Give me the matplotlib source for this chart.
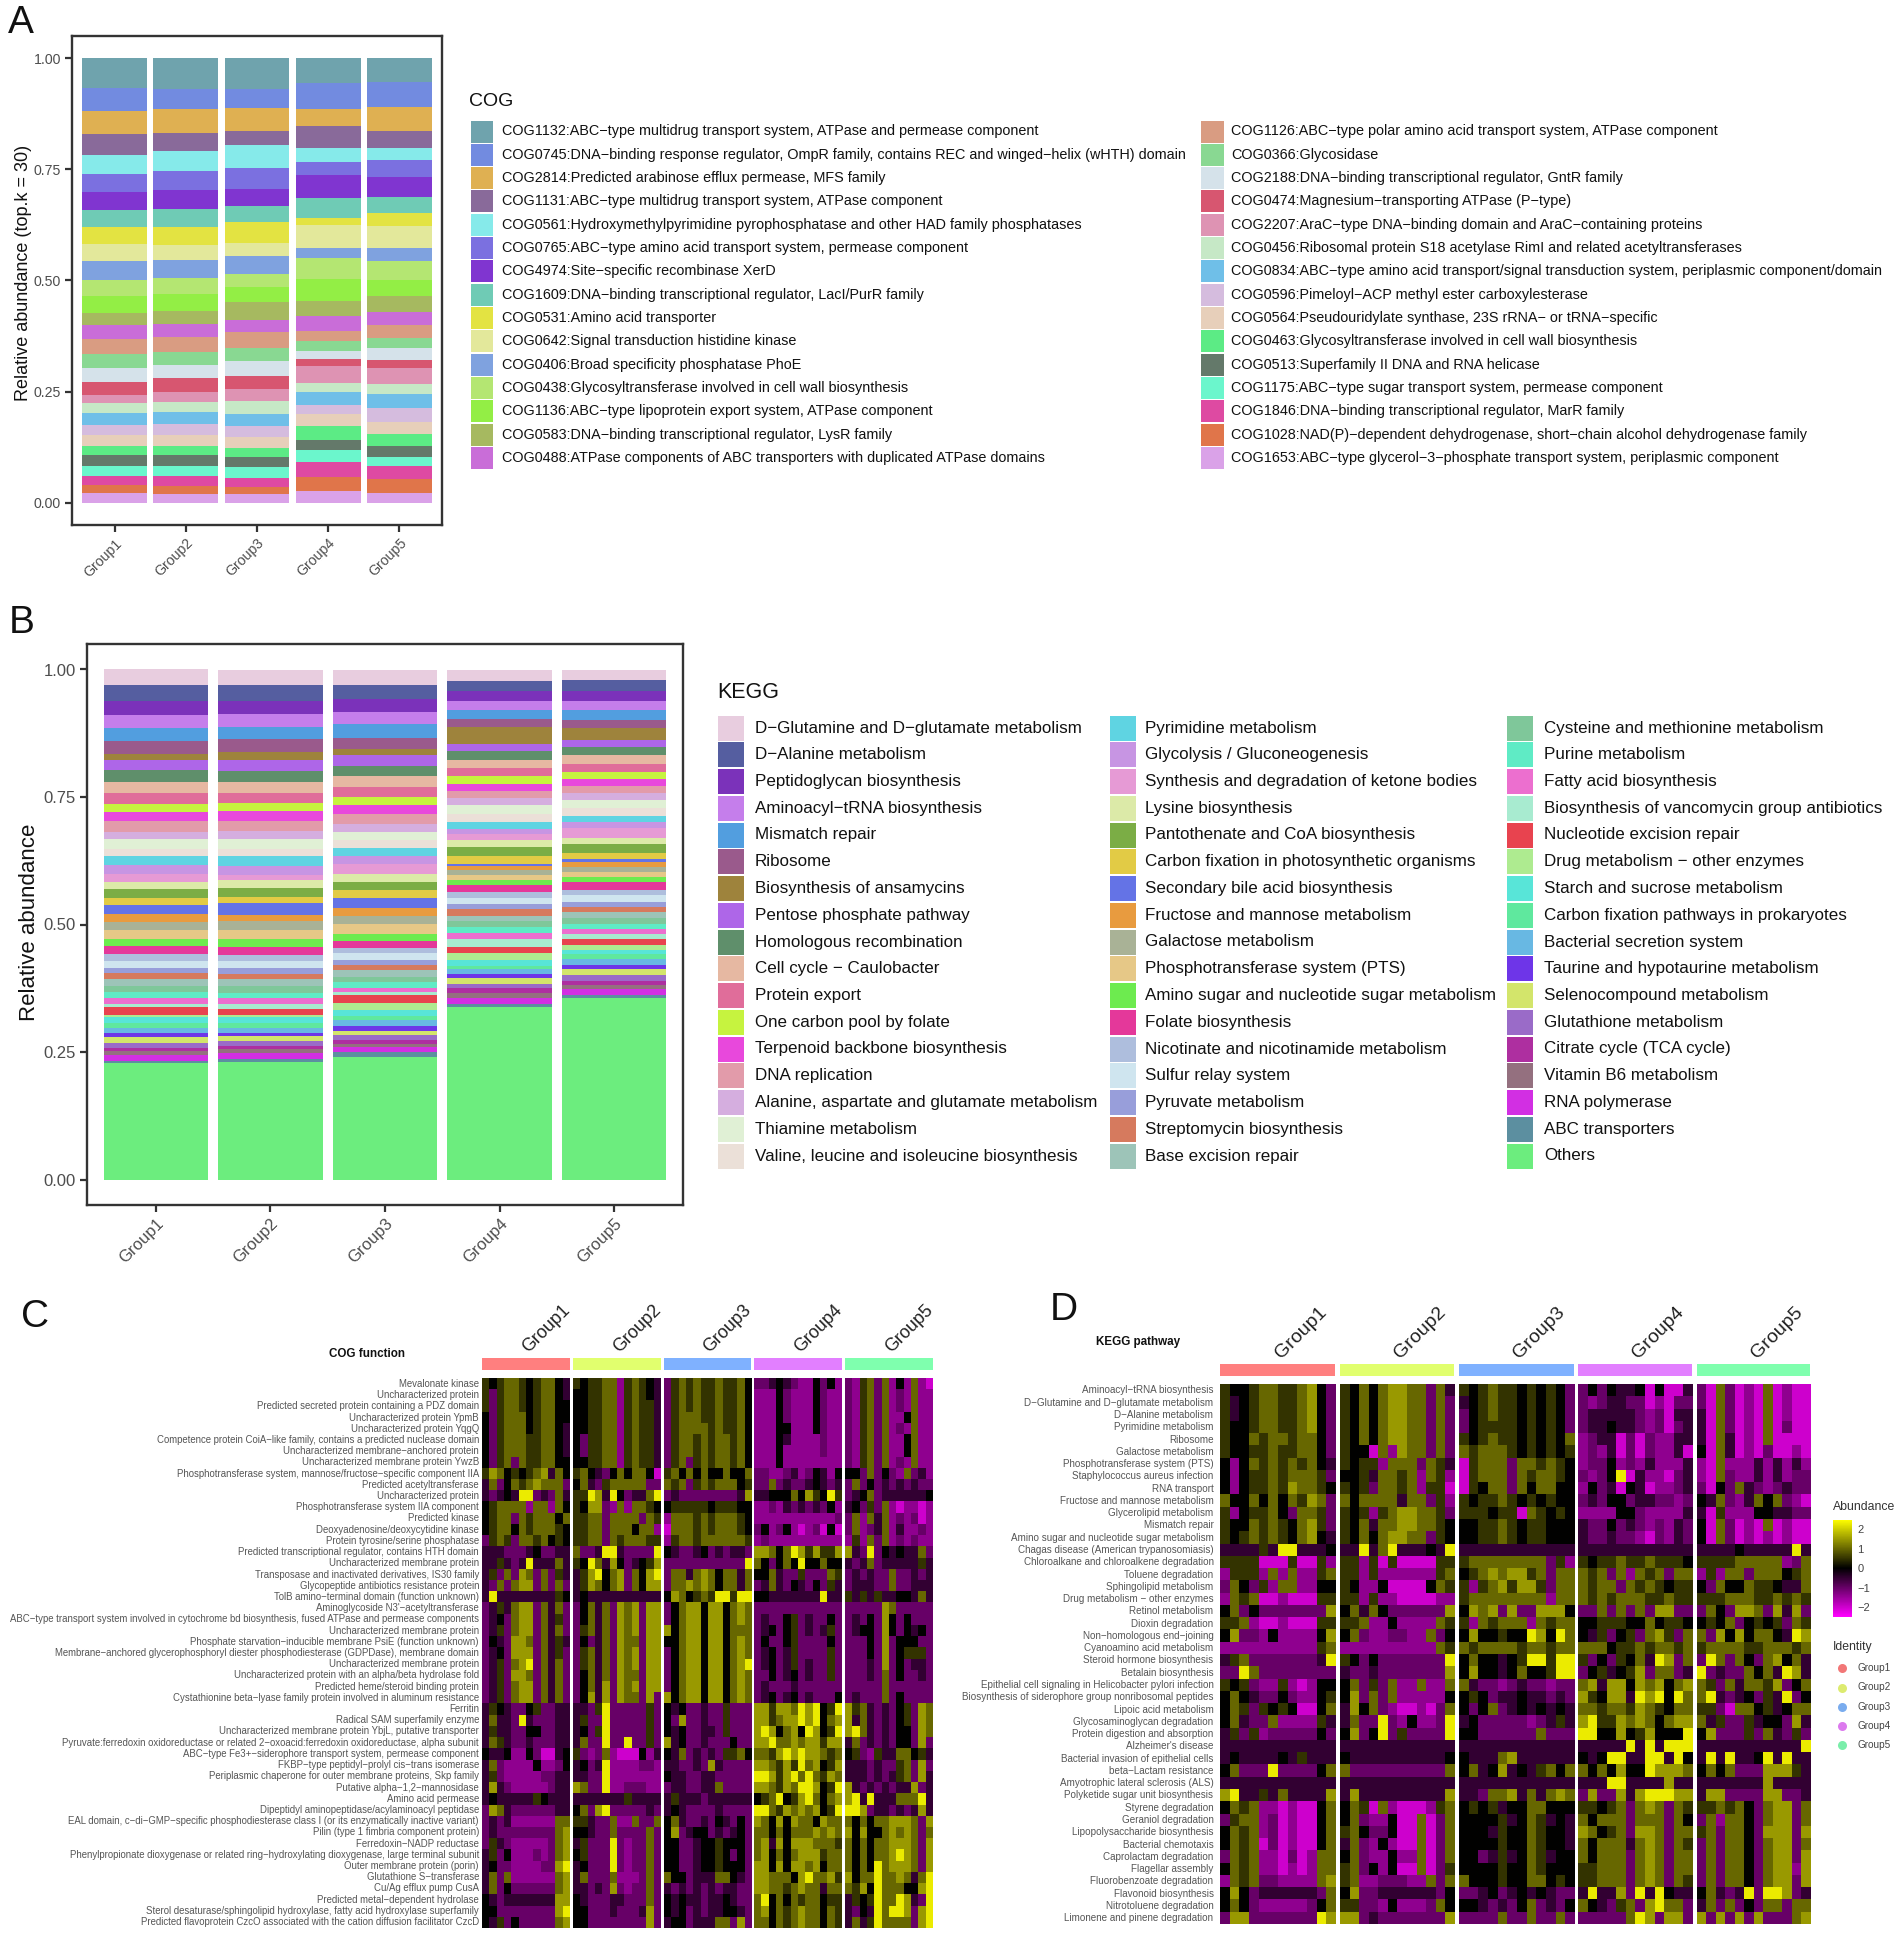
import numpy as np
import matplotlib
matplotlib.use("Agg")
import matplotlib.pyplot as plt
from matplotlib.colors import LinearSegmentedColormap, Normalize
from matplotlib.cm import ScalarMappable
from matplotlib.patches import Rectangle

plt.rcParams['font.family'] = ['Liberation Sans', 'DejaVu Sans']

GROUPS = ["Group1", "Group2", "Group3", "Group4", "Group5"]

# ---------- Panel A ----------
COG_NAMES = [
 "COG1132:ABC−type multidrug transport system, ATPase and permease component",
 "COG0745:DNA−binding response regulator, OmpR family, contains REC and winged−helix (wHTH) domain",
 "COG2814:Predicted arabinose efflux permease, MFS family",
 "COG1131:ABC−type multidrug transport system, ATPase component",
 "COG0561:Hydroxymethylpyrimidine pyrophosphatase and other HAD family phosphatases",
 "COG0765:ABC−type amino acid transport system, permease component",
 "COG4974:Site−specific recombinase XerD",
 "COG1609:DNA−binding transcriptional regulator, LacI/PurR family",
 "COG0531:Amino acid transporter",
 "COG0642:Signal transduction histidine kinase",
 "COG0406:Broad specificity phosphatase PhoE",
 "COG0438:Glycosyltransferase involved in cell wall biosynthesis",
 "COG1136:ABC−type lipoprotein export system, ATPase component",
 "COG0583:DNA−binding transcriptional regulator, LysR family",
 "COG0488:ATPase components of ABC transporters with duplicated ATPase domains",
 "COG1126:ABC−type polar amino acid transport system, ATPase component",
 "COG0366:Glycosidase",
 "COG2188:DNA−binding transcriptional regulator, GntR family",
 "COG0474:Magnesium−transporting ATPase (P−type)",
 "COG2207:AraC−type DNA−binding domain and AraC−containing proteins",
 "COG0456:Ribosomal protein S18 acetylase RimI and related acetyltransferases",
 "COG0834:ABC−type amino acid transport/signal transduction system, periplasmic component/domain",
 "COG0596:Pimeloyl−ACP methyl ester carboxylesterase",
 "COG0564:Pseudouridylate synthase, 23S rRNA− or tRNA−specific",
 "COG0463:Glycosyltransferase involved in cell wall biosynthesis",
 "COG0513:Superfamily II DNA and RNA helicase",
 "COG1175:ABC−type sugar transport system, permease component",
 "COG1846:DNA−binding transcriptional regulator, MarR family",
 "COG1028:NAD(P)−dependent dehydrogenase, short−chain alcohol dehydrogenase family",
 "COG1653:ABC−type glycerol−3−phosphate transport system, periplasmic component",
]
COG_COLORS = ["#6FA3AD","#728BE0","#DFB052","#896A9A","#86EAEA","#7B70E0","#8035D0","#6FCBB5","#E3E342","#E3E89B",
 "#7FA2DF","#B4E672","#93EE45","#A6B960","#C96DD8","#D99C82","#89D892","#D5E2EA","#D75670","#DE93B3",
 "#C6E8C6","#6FBFE8","#D5BCDE","#E7CFBA","#5CEB85","#64796A","#6BF6CC","#DE4AA2","#E0754A","#DAA2E8"]
COG_G1 = [79,61,62,55,50,50,48,43,47,45,50,43,45,33,37,39,38,36,34,23,27,31,26,31,22,30,28,24,20,26]
COG_G2 = [81,55,63,48,53,51,50,47,50,40,48,42,44,36,35,39,35,35,36,27,27,32,28,31,24,29,27,26,20,24]
COG_G3 = [81,51,61,38,61,55,45,43,56,36,46,37,40,46,32,44,33,41,35,31,35,32,30,28,25,26,29,24,19,23]
COG_G4 = [66,68,47,59,36,34,62,52,20,60,28,55,58,40,40,28,26,22,17,45,24,35,25,32,37,27,31,40,38,31]
COG_G5 = [62,67,64,47,32,44,52,43,35,58,36,49,44,43,35,33,28,30,22,43,26,38,38,31,31,29,24,35,39,25]

# ---------- Panel B ----------
KEGG_NAMES = [
 "D−Glutamine and D−glutamate metabolism","D−Alanine metabolism","Peptidoglycan biosynthesis","Aminoacyl−tRNA biosynthesis",
 "Mismatch repair","Ribosome","Biosynthesis of ansamycins","Pentose phosphate pathway","Homologous recombination",
 "Cell cycle − Caulobacter","Protein export","One carbon pool by folate","Terpenoid backbone biosynthesis","DNA replication",
 "Alanine, aspartate and glutamate metabolism","Thiamine metabolism","Valine, leucine and isoleucine biosynthesis",
 "Pyrimidine metabolism","Glycolysis / Gluconeogenesis","Synthesis and degradation of ketone bodies","Lysine biosynthesis",
 "Pantothenate and CoA biosynthesis","Carbon fixation in photosynthetic organisms","Secondary bile acid biosynthesis",
 "Fructose and mannose metabolism","Galactose metabolism","Phosphotransferase system (PTS)","Amino sugar and nucleotide sugar metabolism",
 "Folate biosynthesis","Nicotinate and nicotinamide metabolism","Sulfur relay system","Pyruvate metabolism","Streptomycin biosynthesis",
 "Base excision repair","Cysteine and methionine metabolism","Purine metabolism","Fatty acid biosynthesis",
 "Biosynthesis of vancomycin group antibiotics","Nucleotide excision repair","Drug metabolism − other enzymes",
 "Starch and sucrose metabolism","Carbon fixation pathways in prokaryotes","Bacterial secretion system",
 "Taurine and hypotaurine metabolism","Selenocompound metabolism","Glutathione metabolism","Citrate cycle (TCA cycle)",
 "Vitamin B6 metabolism","RNA polymerase","ABC transporters","Others",
]
KEGG_COLORS = ["#E8CDDF","#555EA0","#7B32BA","#C57EEB","#529EDF","#9A5A8C","#9E833C","#AE66E8","#5F8F6B","#E6B8A2",
 "#E06D9A","#C6F33F","#E848DC","#E29BAA","#D5AEDF","#E0F0D5","#EBE0D8","#5FD4E2","#C795E3","#E69AD5",
 "#DCEAA8","#7BAD45","#E2CB45","#6473E6","#E89B3F","#A9B296","#E6C887","#6DEB4F","#E4389A","#AEBEDD",
 "#CFE5EF","#989EDA","#D67A5E","#9DC4B8","#7FC79A","#5FEBC5","#EC6FCF","#A8EBD0","#E8434F","#AEEB90",
 "#58E5D8","#5FE89E","#68B8E3","#6E35E8","#D3E56B","#9A6BC8","#AE2FA0","#94707F","#D22FE3","#5C8FA0","#6CED7E"]
KEGG_G1 = [38,38,31,31,33,30,15,24,27,27,25,19,22,25,18,24,16,22,21,18,18,20,18,21,18,20,22,16,19,16,18,12,13,17,14,15,13,9,17,7,14,12,11,10,13,13,6,10,14,5,277]
KEGG_G2 = [37,38,30,31,30,30,20,24,28,25,25,19,22,25,18,24,17,24,20,13,20,21,14,28,15,21,21,19,19,15,16,14,11,18,15,14,13,11,15,5,14,12,11,9,10,13,7,9,15,7,279]
KEGG_G3 = [36,35,29,30,32,27,14,25,24,28,22,20,22,22,20,19,18,20,20,22,19,19,20,24,19,19,24,16,16,13,15,13,12,16,13,14,8,9,17,17,14,11,13,13,9,12,10,6,13,10,292]
KEGG_G4 = [27,23,24,22,22,19,40,17,21,20,18,19,17,17,15,23,19,15,12,15,17,21,18,6,10,12,11,11,17,14,14,12,17,13,14,13,15,20,14,16,14,8,12,9,13,10,11,13,14,7,410]
KEGG_G5 = [25,25,25,22,23,19,28,17,20,20,19,18,16,17,16,19,19,15,13,25,13,21,16,6,11,13,12,12,18,12,18,12,11,14,14,11,12,14,14,11,10,11,15,10,13,14,10,10,13,8,431]

# ---------- Panel C ----------
C_LABELS = [
 "Mevalonate kinase","Uncharacterized protein","Predicted secreted protein containing a PDZ domain","Uncharacterized protein YpmB",
 "Uncharacterized protein YqgQ","Competence protein CoiA−like family, contains a predicted nuclease domain",
 "Uncharacterized membrane−anchored protein","Uncharacterized membrane protein YwzB",
 "Phosphotransferase system, mannose/fructose−specific component IIA","Predicted acetyltransferase","Uncharacterized protein",
 "Phosphotransferase system IIA component","Predicted kinase","Deoxyadenosine/deoxycytidine kinase","Protein tyrosine/serine phosphatase",
 "Predicted transcriptional regulator, contains HTH domain","Uncharacterized membrane protein","Transposase and inactivated derivatives, IS30 family",
 "Glycopeptide antibiotics resistance protein","TolB amino−terminal domain (function unknown)","Aminoglycoside N3'−acetyltransferase",
 "ABC−type transport system involved in cytochrome bd biosynthesis, fused ATPase and permease components","Uncharacterized membrane protein",
 "Phosphate starvation−inducible membrane PsiE (function unknown)","Membrane−anchored glycerophosphoryl diester phosphodiesterase (GDPDase), membrane domain",
 "Uncharacterized membrane protein","Uncharacterized protein with an alpha/beta hydrolase fold","Predicted heme/steroid binding protein",
 "Cystathionine beta−lyase family protein involved in aluminum resistance","Ferritin","Radical SAM superfamily enzyme",
 "Uncharacterized membrane protein YbjL, putative transporter","Pyruvate:ferredoxin oxidoreductase or related 2−oxoacid:ferredoxin oxidoreductase, alpha subunit",
 "ABC−type Fe3+−siderophore transport system, permease component","FKBP−type peptidyl−prolyl cis−trans isomerase",
 "Periplasmic chaperone for outer membrane proteins, Skp family","Putative alpha−1,2−mannosidase","Amino acid permease",
 "Dipeptidyl aminopeptidase/acylaminoacyl peptidase","EAL domain, c−di−GMP−specific phosphodiesterase class I (or its enzymatically inactive variant)",
 "Pilin (type 1 fimbria component protein)","Ferredoxin−NADP reductase","Phenylpropionate dioxygenase or related ring−hydroxylating dioxygenase, large terminal subunit",
 "Outer membrane protein (porin)","Glutathione S−transferase","Cu/Ag efflux pump CusA","Predicted metal−dependent hydrolase",
 "Sterol desaturase/sphingolipid hydroxylase, fatty acid hydroxylase superfamily","Predicted flavoprotein CzcO associated with the cation diffusion facilitator CzcD",
]
# digit codes: 0/1 bright magenta ... 5 black ... 9 bright yellow; each row: 5 groups x 12 columns
C_CODES = [
 "656776567754 656677267654 367676676675 334543225352 326737252721",
 "636776567754 556677267654 367676676675 222532225322 326737232722",
 "636776567755 556677267664 367676676675 222532225322 326737232722",
 "536777567755 556677267664 367776676675 222532225322 326737225722",
 "536777567754 556677267664 367777676675 222552225322 326737232722",
 "536777667754 536677267664 367767677675 222542222322 326737225722",
 "536777667754 536677267664 367767677675 222522222322 326737225722",
 "536737667755 556677267664 367367677675 222522222222 326737232722",
 "687565678475 675435757751 675757557557 332234235425 553735327342",
 "473576787773 574367777733 767367677756 337343345434 373534343433",
 "434549934374 669849534479 343333333348 445557586596 345734444445",
 "567777277275 658832727765 566666566655 223243434352 453637212212",
 "567737677757 667737777376 277767677765 222222222223 372747232312",
 "567757677765 667737775772 177767677765 352352123151 372347242232",
 "367637767565 667737677766 267767777776 232222222222 262737232322",
 "444333453344 733499433339 543345343443 887579868668 843935454473",
 "446434944474 659748534568 333333333339 753575955755 434734444464",
 "463738737364 468957837589 377478757747 557433633376 343433733434",
 "437378837373 468757837588 377878757747 347435435364 344433733444",
 "494444444465 454444444444 587567699699 554444444944 646464455474",
 "346478837473 357473878388 357885885787 333333333333 333338733333",
 "345378837463 357473878388 357885885787 343356343353 343538535333",
 "346378837473 367473878388 857885885777 345356343463 345538535453",
 "354388737464 353473877388 557885885787 353356333353 333538355533",
 "345388837463 367473878388 357885885787 345346333363 333538356663",
 "346378937473 367473878388 357885885789 345346343363 333438353443",
 "346388737473 357473877388 357885885787 335345343363 333437353343",
 "346378837473 357483878388 357885885787 343334333333 333337333333",
 "346378837473 358483877383 857885885787 345345343335 343337353333",
 "465433563344 443693333363 545334336333 886887989569 867434356387",
 "474439433344 463393333363 538334336333 886788989578 847434356387",
 "464433553344 453693333363 545334436333 898578598569 897434355387",
 "476433433344 473393393363 845334333533 889778788688 473434355383",
 "544522531145 632372111524 547343436675 776898988767 563264477564",
 "473222252235 453492222332 443343843333 887686978568 444343367383",
 "463222223344 443392222222 544334433333 998689797687 444343467384",
 "484322222344 873392233322 344334473333 887687998569 843434344834",
 "454444465444 444444464444 464443444444 567956897578 894944477794",
 "387433333344 573893333343 454333343333 997687878569 998344343484",
 "343422222277 664337227337 574334354353 875858775877 757577888738",
 "343333333378 554337333373 583455343453 775757778787 858557878737",
 "364322222378 463339323373 553345565553 784858887776 757577888738",
 "463522232378 563339323373 553345565353 785757888677 757577898738",
 "453322223389 453339323373 553345565553 885858878577 757597888738",
 "473722222278 473337222373 755344477543 887775897786 857797787479",
 "473533333378 443438323373 434343434433 887767877477 768597775589",
 "543444444488 543334433373 545443445433 795757677566 465697798439",
 "553333333389 553334333483 545343445543 785767877576 435497998389",
 "546353333378 553333333383 455344477383 775767877576 474697777389",
]

# ---------- Panel D ----------
D_LABELS = [
 "Aminoacyl−tRNA biosynthesis","D−Glutamine and D−glutamate metabolism","D−Alanine metabolism","Pyrimidine metabolism","Ribosome",
 "Galactose metabolism","Phosphotransferase system (PTS)","Staphylococcus aureus infection","RNA transport","Fructose and mannose metabolism",
 "Glycerolipid metabolism","Mismatch repair","Amino sugar and nucleotide sugar metabolism","Chagas disease (American trypanosomiasis)",
 "Chloroalkane and chloroalkene degradation","Toluene degradation","Sphingolipid metabolism","Drug metabolism − other enzymes","Retinol metabolism",
 "Dioxin degradation","Non−homologous end−joining","Cyanoamino acid metabolism","Steroid hormone biosynthesis","Betalain biosynthesis",
 "Epithelial cell signaling in Helicobacter pylori infection","Biosynthesis of siderophore group nonribosomal peptides","Lipoic acid metabolism",
 "Glycosaminoglycan degradation","Protein digestion and absorption","Alzheimer's disease","Bacterial invasion of epithelial cells","beta−Lactam resistance",
 "Amyotrophic lateral sclerosis (ALS)","Polyketide sugar unit biosynthesis","Styrene degradation","Geraniol degradation","Lipopolysaccharide biosynthesis",
 "Bacterial chemotaxis","Caprolactam degradation","Flagellar assembly","Fluorobenzoate degradation","Flavonoid biosynthesis","Nitrotoluene degradation",
 "Limonene and pinene degradation",
]
D_CODES = [
 "655677667853 657578877374 656766565653 353544515114 317312171211",
 "645677667853 657578877373 456766565653 323443312133 317312171211",
 "645677667853 657578877373 356766565653 344444323144 417312171211",
 "655677667853 657578877373 356666565653 344544323134 417312171311",
 "655767767753 657578877373 656766565657 234413132244 417412171111",
 "655667667753 655172877373 767776565656 232413132241 517412131121",
 "525767676754 656627773764 167773776765 233523242224 217222424242",
 "525667677763 556477672762 167773767765 323591422134 217322424233",
 "525667687765 656377672661 165773757755 253415412234 315374323433",
 "755757576873 757777477362 656676565655 343553443323 547324757321",
 "625667537763 656267887763 666566176565 222255322224 416222554433",
 "655767657863 657477887765 556676566555 433534323243 517312171211",
 "656767657854 657578877365 556676566555 433433213243 517312121211",
 "444464994445 449479444549 444444444444 444444444444 444454444494",
 "666611161162 662616111166 677777777362 656676676665 666677777237",
 "266627272267 662622222267 567878867377 767372767377 262773777567",
 "375362772255 652251111576 626786886377 767737676566 537557665447",
 "276711211166 662622111122 677777777277 767677766766 666777667676",
 "573533333338 574753333338 587838338885 337373738833 375388738483",
 "667211211166 667225222276 627677727677 556665575665 565735656376",
 "583325222258 573223322735 585565598597 546356378637 738585775498",
 "222222222267 222222222276 767777677677 777566767767 677776677767",
 "467333333349 653533333339 575545699699 635365749837 397375378574",
 "339733333333 433433333338 585545755699 356456837734 934337574984",
 "656322621255 573637227227 743323433233 784885878578 763747768357",
 "575433532256 583737222225 565344544343 865884989597 794345364935",
 "576365651157 485732112137 535734545454 776776876577 663177564577",
 "574337222264 473393252239 453333323464 896687875788 746336455384",
 "463623333353 583593633339 553333337333 995585685559 583336374363",
 "444444444444 444444444444 444444444444 444449494999 444444444449",
 "454444546444 544444444445 544478444444 545994499495 494944594944",
 "573339333357 733333333337 574584546757 757585598887 575733388864",
 "444444444444 444444444444 444444444444 444994444844 444444484444",
 "894464744448 484444444448 443778474787 383384899988 488333388334",
 "576722121157 576172111267 565645577555 665673787376 667675378837",
 "367723121157 573225117137 555564576454 757773777375 372775378837",
 "576723121157 675335117137 555465576554 875673887377 673775388838",
 "576713121157 473252117137 555565576554 757774787376 373775378837",
 "376722131277 573225227137 553464576455 757773787377 373775378838",
 "576722121277 673525117136 555565576555 667773787377 373775378828",
 "276733222278 672233322737 755565577565 667773787376 373775378838",
 "585344444437 583344444435 334534545433 494483949544 574349399834",
 "575322222357 663325222375 554343573435 754367389773 473735377377",
 "388333333398 883433333338 333373373373 333337983883 838383833378",
]
CODE_VALUE = [-2.5, -2.0, -1.4, -1.0, -0.5, 0.0, 0.5, 1.0, 1.5, 2.3]
ABUND_TICKS = [-2, -1, 0, 1, 2]
BAND_COLORS = ["#FF7F7F", "#E1FF6E", "#7FB1FF", "#E27FFF", "#7FFFAE"]
DOT_COLORS = ["#F27777", "#DDEB70", "#7AACEE", "#DC7AEE", "#7AEEAA"]

W, H = 1902, 1934
fig = plt.figure(figsize=(W/100, H/100), dpi=100, facecolor="white")
DARK = "#333333"; TICKC = "#4D4D4D"

def axpx(l, t, r, b, **kw):
    return fig.add_axes([l/W, 1-b/H, (r-l)/W, (b-t)/H], **kw)

ov = fig.add_axes([0, 0, 1, 1], zorder=5)
ov.set_xlim(0, W); ov.set_ylim(H, 0); ov.axis("off"); ov.patch.set_alpha(0)

def stacked(box, series, colors, ylabel, tfs, lfs, ylab_x, ylab_y):
    ax = axpx(*box)
    m = np.array(series, float)
    m = m / m.sum(axis=1, keepdims=True)
    x = np.arange(1, 6)
    top = np.ones(5)
    for j in range(m.shape[1]):
        ax.bar(x, m[:, j], bottom=top - m[:, j], width=0.91, color=colors[j], linewidth=0)
        top = top - m[:, j]
    ax.set_xlim(0.4, 5.6); ax.set_ylim(-0.05, 1.05)
    ax.set_yticks([0, .25, .5, .75, 1]); ax.set_yticklabels(["0.00", "0.25", "0.50", "0.75", "1.00"])
    ax.set_xticks(x); ax.set_xticklabels(GROUPS, rotation=45, ha="right", rotation_mode="anchor")
    ax.tick_params(axis="both", labelsize=tfs, colors=DARK, labelcolor=TICKC, length=5, width=1.6, pad=3)
    for s in ax.spines.values():
        s.set_linewidth(1.7); s.set_color(DARK)
    ov.text(ylab_x, ylab_y, ylabel, rotation=90, ha="center", va="center", fontsize=lfs, color="#111111")
    return ax

stacked((72, 36, 442, 525), [COG_G1, COG_G2, COG_G3, COG_G4, COG_G5], COG_COLORS,
        "Relative abundance (top.k = 30)", 10.2, 13.0, 24, 273)
stacked((87, 644, 683, 1205), [KEGG_G1, KEGG_G2, KEGG_G3, KEGG_G4, KEGG_G5], KEGG_COLORS,
        "Relative abundance", 12, 16, 30, 922)

def legend(title, tx, ty, tfs, names, colors, cols, y0, dy, sw, sh, lfs):
    ov.text(tx, ty, title, fontsize=tfs, va="center", ha="left", color="#111111")
    i = 0
    for (sx, txt_x, n) in cols:
        for r in range(n):
            ov.add_patch(Rectangle((sx, y0+dy*r-sh/2), sw, sh, facecolor=colors[i], edgecolor="none"))
            ov.text(txt_x, y0+dy*r, names[i], fontsize=lfs, va="center", ha="left", color="#111111")
            i += 1

legend("COG", 469, 101, 14, COG_NAMES, COG_COLORS, [(470.5, 502, 15), (1201, 1231, 15)], 131.5, 23.32, 22.5, 22, 10.35)
legend("KEGG", 717, 692, 15.5, KEGG_NAMES, KEGG_COLORS, [(718, 755, 17), (1110, 1145, 17), (1507, 1544, 17)], 728, 26.75, 25.5, 25, 12.25)

for lt, x, y in [("A", 8, 33), ("B", 9, 633), ("C", 21, 1327), ("D", 1050, 1320)]:
    ov.text(x, y, lt, fontsize=28, ha="left", va="baseline", color="#111111")

cmap = LinearSegmentedColormap.from_list("py", ["#FF00FF", "#000000", "#FFFF00"])
norm = Normalize(-2.5, 2.5)

def decode(rows):
    out = []
    for r in rows:
        out.append([[CODE_VALUE[int(c)] for c in part] for part in r.split()])
    return np.array(out)  # rows, groups, cols

def heat(codes, labels, panels, top, bot, band, lab_x, lfs, title, title_xy, glab, gfs, gdx):
    data = decode(codes)
    rowh = (bot-top)/len(labels)
    for g, (l, r) in enumerate(panels):
        ax = axpx(l, top, r, bot)
        ax.imshow(data[:, g, :], cmap=cmap, norm=norm, aspect="auto", interpolation="nearest")
        ax.set_xticks([]); ax.set_yticks([])
        for s in ax.spines.values():
            s.set_visible(False)
        ov.add_patch(Rectangle((l, band[0]), r-l, band[1]-band[0], facecolor=BAND_COLORS[g], edgecolor="none"))
        ov.text(glab[0]+gdx*g, glab[1], GROUPS[g], rotation=45, rotation_mode="anchor", ha="left", va="bottom",
                fontsize=gfs, color="#222222")
    for i, t in enumerate(labels):
        ov.text(lab_x, top+rowh*(i+.5), t, fontsize=lfs, ha="right", va="center", color="#555555")
    ov.text(title_xy[0], title_xy[1], title, fontsize=8.4, fontweight="bold", ha="center", va="center", color="#111111")

heat(C_CODES, C_LABELS, [(482, 569.7), (573, 660.7), (663.7, 751.3), (754.3, 842), (845, 933)], 1378.3, 1927.7,
     (1358, 1369.6), 479, 6.95, "COG function", (367, 1354), (531, 1356), 13, 90.8)
heat(D_CODES, D_LABELS, [(1219.7, 1335.3), (1339.5, 1454), (1458.5, 1573.7), (1577.6, 1692.4), (1696.6, 1810)], 1384.3, 1924.3,
     (1364, 1376), 1213.5, 7.1, "KEGG pathway", (1138, 1342), (1284, 1362), 14, 119)

# colour legend
ov.text(1833, 1507, "Abundance", fontsize=8.8, ha="left", va="center", color="#333333")
cax = axpx(1833, 1519.6, 1852, 1616.7)
cb = fig.colorbar(ScalarMappable(norm=norm, cmap=cmap), cax=cax, ticks=ABUND_TICKS)
cb.outline.set_visible(False)
cb.ax.set_yticklabels([str(t).replace("-", "−") for t in ABUND_TICKS])
cb.ax.tick_params(length=0, labelsize=8, labelcolor="#444444", pad=4)

ov.text(1833, 1647, "Identity", fontsize=8.8, ha="left", va="center", color="#333333")
for g, yy in enumerate([1668, 1687.5, 1707, 1726, 1745]):
    ov.plot([1842], [yy], "o", ms=6.5, color=DOT_COLORS[g], mew=0)
    ov.text(1858, yy, GROUPS[g], fontsize=7.2, ha="left", va="center", color="#444444")

fig.savefig("out.png", dpi=100)
